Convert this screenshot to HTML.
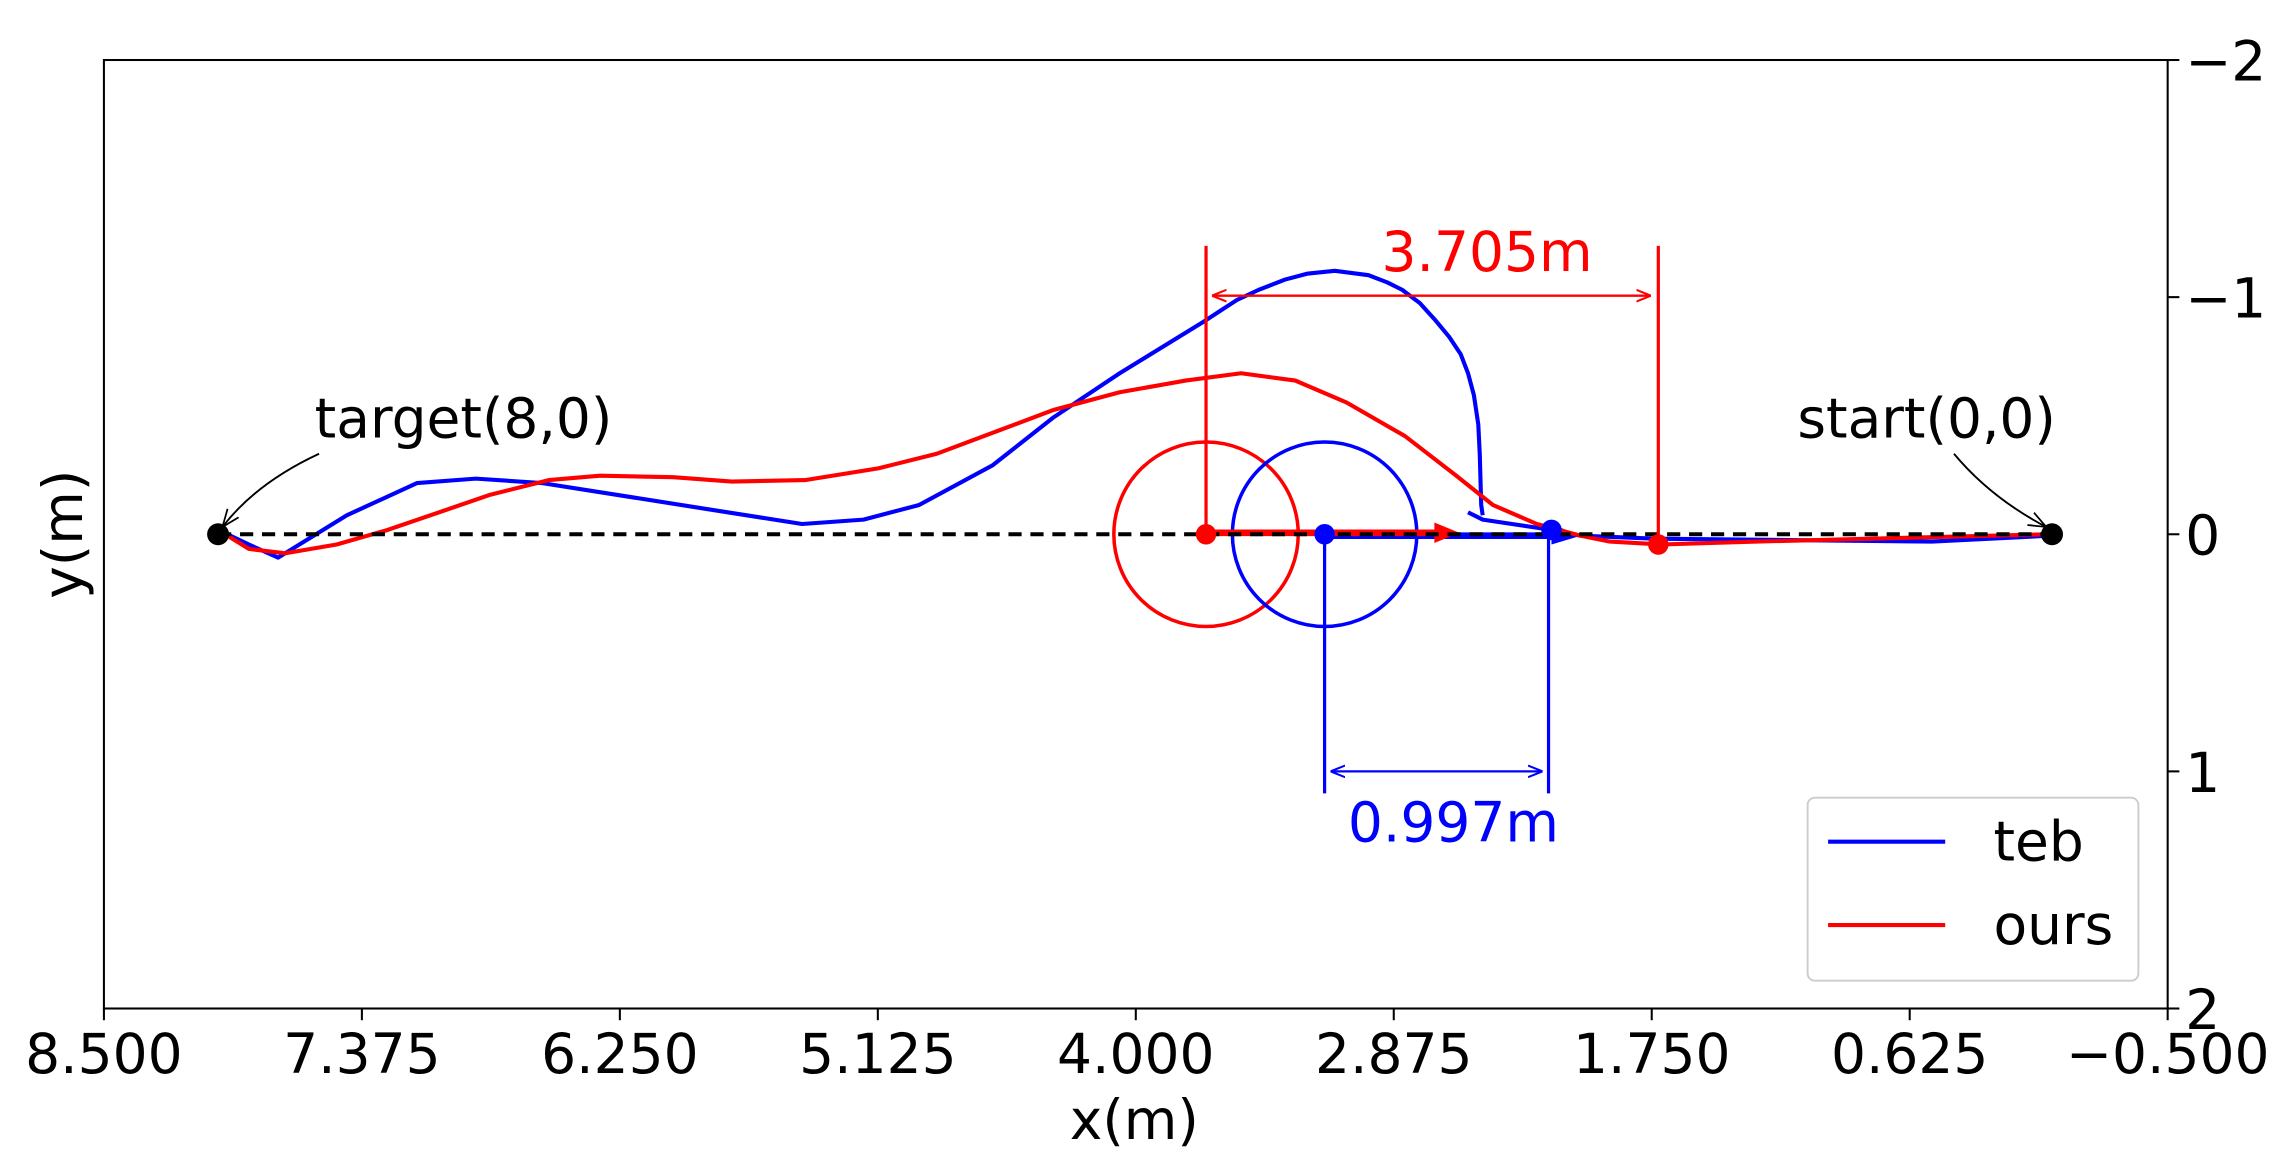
<!DOCTYPE html>
<html><head><meta charset="utf-8"><style>html,body{margin:0;padding:0;background:#fff}svg{display:block}</style></head>
<body>
<svg width="2295" height="1166" viewBox="0 0 1568 796.6" preserveAspectRatio="none" xmlns="http://www.w3.org/2000/svg" font-family="DejaVu Sans, Liberation Sans, sans-serif">
<defs>
<marker id="ar" viewBox="0 0 10 10" refX="10" refY="5" markerWidth="10" markerHeight="10" orient="auto-start-reverse" markerUnits="userSpaceOnUse"><path d="M0,1 L10,5 L0,9" fill="none" stroke="red" stroke-width="1.4"/></marker>
<marker id="ab" viewBox="0 0 10 10" refX="10" refY="5" markerWidth="10" markerHeight="10" orient="auto-start-reverse" markerUnits="userSpaceOnUse"><path d="M0,1 L10,5 L0,9" fill="none" stroke="blue" stroke-width="1.4"/></marker>
<marker id="ak" viewBox="0 0 10 10" refX="10" refY="5" markerWidth="12" markerHeight="12" orient="auto" markerUnits="userSpaceOnUse"><path d="M0,1 L10,5 L0,9" fill="none" stroke="#000" stroke-width="1"/></marker>
</defs>
<rect x="71" y="41" width="1410" height="648" fill="none" stroke="#000" stroke-width="1.4"/>
<circle cx="824" cy="365" r="63" fill="none" stroke="red" stroke-width="2.4"/>
<circle cx="905" cy="365" r="63" fill="none" stroke="blue" stroke-width="2.4"/>
<polyline fill="none" stroke="blue" stroke-width="2.8" stroke-linejoin="round" points="149,362 170,372 190,381 237,352 285,330 325,327 370,330 548,358 590,355 628,345 678,318 720,285 765,255 822,220 845,205 860,198 878,191 893,187 912,185 935,188 948,193 958,198 970,207 980,218 990,230 998,242 1003,255 1007,270 1010,290 1011,310 1012,345 1013,352"/>
<polyline fill="none" stroke="blue" stroke-width="2.8" stroke-linejoin="round" points="1003,350 1013,355 1060,362 1080,366 1130,368 1320,370 1400,366"/>
<line x1="905" y1="366" x2="1070" y2="366" stroke="blue" stroke-width="4.5"/>
<polygon points="1060,358 1080,366 1060,372" fill="blue"/>
<polyline fill="none" stroke="red" stroke-width="2.8" stroke-linejoin="round" points="149,362 170,375 195,378 230,372 265,362 300,350 335,338 375,328 410,325 460,326 500,329 550,328 600,320 640,310 680,295 720,280 765,268 810,260 848,255 885,260 920,275 960,298 995,325 1020,345 1050,358 1080,366 1100,370 1135,372 1200,370 1400,365"/>
<line x1="824" y1="364" x2="985" y2="364" stroke="red" stroke-width="4.5"/>
<polygon points="980,357 997,364 980,371" fill="red"/>
<line x1="149" y1="365" x2="1402" y2="365" stroke="#000" stroke-width="2.8" stroke-dasharray="9,6"/>
<circle cx="149" cy="365" r="7.5" fill="#000"/><circle cx="1402" cy="365" r="7.5" fill="#000"/>
<circle cx="824" cy="365" r="7" fill="red"/><circle cx="1133" cy="372" r="7" fill="red"/>
<circle cx="905" cy="365" r="7" fill="blue"/><circle cx="1060" cy="362" r="7" fill="blue"/>
<line x1="824" y1="168" x2="824" y2="365" stroke="red" stroke-width="2.2"/>
<line x1="1133" y1="168" x2="1133" y2="372" stroke="red" stroke-width="2.2"/>
<line x1="828" y1="202" x2="1128" y2="202" stroke="red" stroke-width="1.6" marker-start="url(#ar)" marker-end="url(#ar)"/>
<text x="1016" y="185" fill="red" font-size="37.6" text-anchor="middle">3.705m</text>
<line x1="905" y1="365" x2="905" y2="542" stroke="blue" stroke-width="2.2"/>
<line x1="1058" y1="362" x2="1058" y2="542" stroke="blue" stroke-width="2.2"/>
<line x1="909" y1="527" x2="1054" y2="527" stroke="blue" stroke-width="1.6" marker-start="url(#ab)" marker-end="url(#ab)"/>
<text x="993" y="575" fill="blue" font-size="37.6" text-anchor="middle">0.997m</text>
<text x="215" y="299" font-size="37.6">target(8,0)</text>
<path d="M218,310 Q175,330 152,360" fill="none" stroke="#000" stroke-width="1.3" marker-end="url(#ak)"/>
<text x="1228" y="299" font-size="37.6">start(0,0)</text>
<path d="M1335,310 Q1360,340 1398,360" fill="none" stroke="#000" stroke-width="1.3" marker-end="url(#ak)"/>
<rect x="1235" y="545" width="226" height="125" rx="5" fill="#fff" fill-opacity="0.8" stroke="#ccc" stroke-width="1.3"/>
<line x1="1249" y1="575" x2="1329" y2="575" stroke="blue" stroke-width="2.8"/>
<text x="1362" y="588" font-size="37.6">teb</text>
<line x1="1249" y1="632" x2="1329" y2="632" stroke="red" stroke-width="2.8"/>
<text x="1362" y="645" font-size="37.6">ours</text>
<g stroke="#000" stroke-width="1.4">
<line x1="71" y1="689" x2="71" y2="697"/><line x1="247.25" y1="689" x2="247.25" y2="697"/><line x1="423.5" y1="689" x2="423.5" y2="697"/><line x1="599.75" y1="689" x2="599.75" y2="697"/><line x1="776" y1="689" x2="776" y2="697"/><line x1="952.25" y1="689" x2="952.25" y2="697"/><line x1="1128.5" y1="689" x2="1128.5" y2="697"/><line x1="1304.75" y1="689" x2="1304.75" y2="697"/><line x1="1481" y1="689" x2="1481" y2="697"/>
<line x1="1481" y1="41" x2="1489" y2="41"/><line x1="1481" y1="203" x2="1489" y2="203"/><line x1="1481" y1="365" x2="1489" y2="365"/><line x1="1481" y1="527" x2="1489" y2="527"/><line x1="1481" y1="689" x2="1489" y2="689"/>
</g>
<g font-size="37.6" text-anchor="middle">
<text x="71" y="733">8.500</text><text x="247.25" y="733">7.375</text><text x="423.5" y="733">6.250</text><text x="599.75" y="733">5.125</text><text x="776" y="733">4.000</text><text x="952.25" y="733">2.875</text><text x="1128.5" y="733">1.750</text><text x="1304.75" y="733">0.625</text><text x="1481" y="733">−0.500</text>
<text x="775" y="778">x(m)</text>
</g>
<g font-size="37.6">
<text x="1493" y="55">−2</text><text x="1493" y="217">−1</text><text x="1493" y="379">0</text><text x="1493" y="541">1</text><text x="1493" y="703">2</text>
</g>
<text transform="translate(56,365) rotate(-90)" font-size="37.6" text-anchor="middle">y(m)</text>
</svg>
</body></html>
